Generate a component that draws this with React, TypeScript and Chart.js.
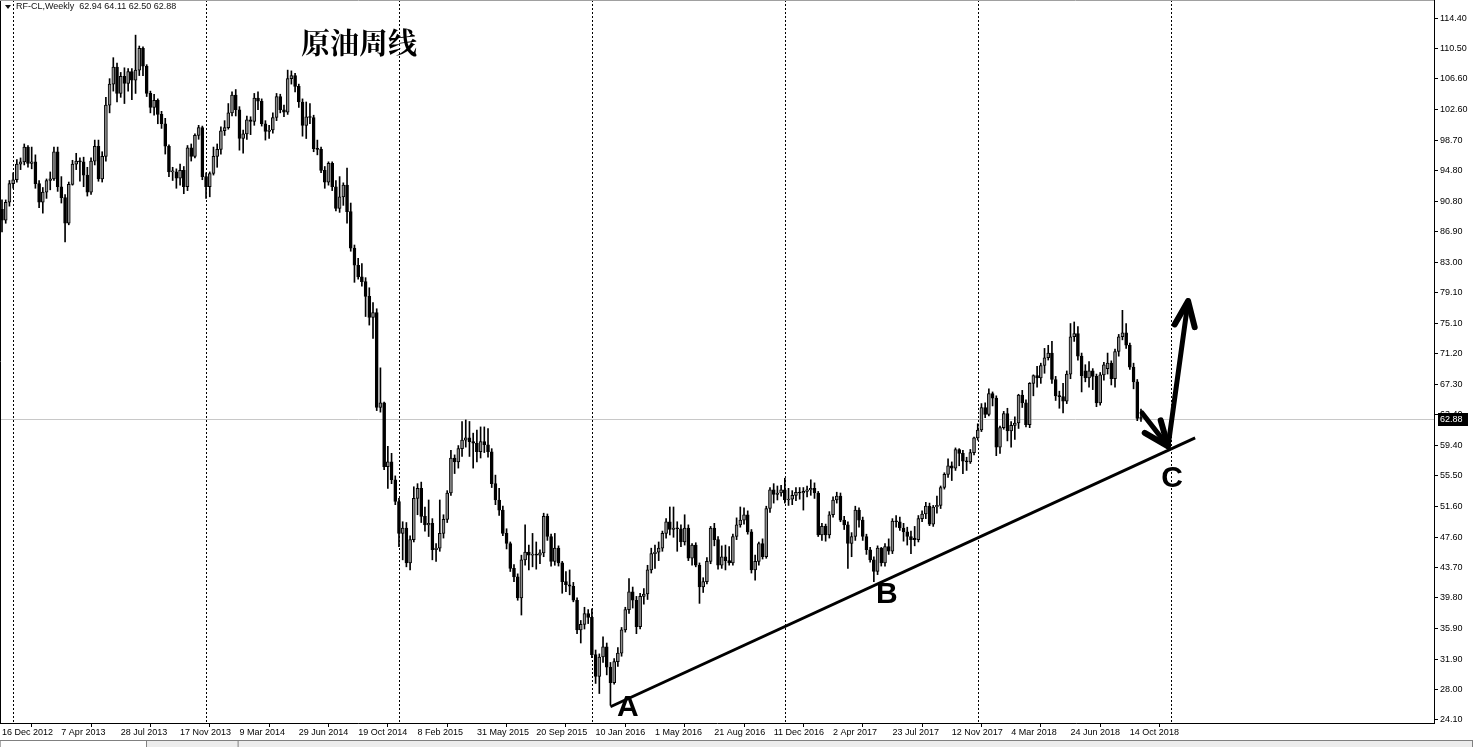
import React, { useEffect, useRef } from "react";
import { Chart, registerables } from "chart.js";

Chart.register(...registerables);

// Weekly candles: [open, high, low, close]
const candles2012 = [
  [89.8, 91.0, 86.9, 88.4], [88.4, 91.0, 88.0, 90.7], [90.7, 93.5, 90.2, 93.1],
];
const candles2013 = [
  [93.1, 94.5, 92.5, 93.6], [93.6, 96.2, 93.3, 95.6], [95.6, 96.4, 94.9, 95.9], [95.9, 98.2, 95.5, 97.8],
  [97.8, 98.0, 95.2, 95.7], [95.7, 97.8, 95.0, 95.9], [95.9, 96.8, 92.5, 93.1], [93.1, 93.5, 90.0, 90.7],
  [90.7, 92.6, 89.3, 92.0], [92.0, 93.7, 91.2, 93.5], [93.5, 94.6, 92.3, 93.7], [93.7, 97.8, 93.5, 97.2],
  [97.2, 97.8, 92.1, 92.7], [92.7, 94.0, 90.6, 91.3], [91.3, 91.7, 85.6, 88.0], [88.0, 93.3, 87.8, 93.0],
  [93.0, 96.1, 92.9, 95.6], [95.6, 97.0, 94.9, 96.0], [96.0, 96.4, 93.4, 95.9], [95.9, 96.5, 92.7, 94.2],
  [94.2, 95.2, 91.5, 92.0], [92.0, 96.4, 91.7, 96.0], [96.0, 98.7, 95.5, 97.9], [97.9, 98.7, 93.4, 93.7],
  [93.7, 97.2, 93.3, 96.6], [96.6, 104.2, 96.0, 103.2], [103.2, 106.6, 102.2, 105.9], [105.9, 109.3, 105.0, 108.1],
  [108.1, 108.6, 103.6, 104.7], [104.7, 107.4, 104.2, 106.9], [106.9, 108.0, 103.4, 106.0], [106.0, 107.9, 105.0, 107.5],
  [107.5, 107.9, 103.9, 106.4], [106.4, 112.2, 104.7, 107.7], [107.7, 110.8, 107.0, 110.5], [110.5, 110.7, 107.0, 108.2],
  [108.2, 108.4, 104.3, 104.7], [104.7, 105.0, 102.2, 102.9], [102.9, 104.6, 101.9, 103.8], [103.8, 104.0, 100.8, 102.0],
  [102.0, 102.4, 100.2, 100.8], [100.8, 101.5, 96.9, 97.9], [97.9, 98.1, 94.0, 94.6], [94.6, 95.2, 93.5, 94.6],
  [94.6, 95.0, 92.5, 93.8], [93.8, 95.6, 92.9, 94.8], [94.8, 95.3, 91.8, 92.7], [92.7, 98.0, 92.2, 97.7],
  [97.7, 98.2, 96.0, 96.6], [96.6, 99.5, 96.4, 99.3], [99.3, 100.6, 98.8, 100.3], [100.3, 100.5, 93.6, 94.0],
];
const candles2014 = [
  [94.0, 94.5, 91.2, 92.7], [92.7, 94.6, 91.4, 94.4], [94.4, 97.8, 94.2, 96.6], [96.6, 98.2, 95.2, 97.5],
  [97.5, 100.4, 96.9, 99.9], [99.9, 101.2, 99.3, 100.3], [100.3, 103.4, 100.1, 102.2], [102.2, 104.9, 101.8, 104.5],
  [104.5, 105.2, 101.8, 102.6], [102.6, 103.0, 97.4, 98.9], [98.9, 100.0, 97.0, 99.5], [99.5, 101.8, 98.8, 101.3],
  [101.3, 101.7, 99.4, 101.1], [101.1, 104.7, 100.6, 104.1], [104.1, 104.9, 102.6, 103.7], [103.7, 104.0, 100.5, 100.8],
  [100.8, 101.2, 98.7, 99.8], [99.8, 100.6, 98.9, 100.0], [100.0, 102.2, 99.6, 101.6], [101.6, 104.7, 101.2, 104.3],
  [104.3, 104.6, 102.2, 102.6], [102.6, 103.2, 101.7, 102.3], [102.3, 107.7, 102.0, 106.6], [106.6, 107.6, 105.9, 107.0],
  [107.0, 107.3, 104.9, 105.6], [105.6, 105.9, 102.9, 103.6], [103.6, 104.0, 99.2, 100.6], [100.6, 103.6, 98.9, 101.7],
  [101.7, 103.4, 100.8, 101.6], [101.6, 101.9, 97.2, 97.6], [97.6, 98.7, 96.8, 97.5], [97.5, 97.8, 94.5, 94.8],
  [94.8, 95.3, 92.5, 93.3], [93.3, 95.9, 92.9, 95.7], [95.7, 95.9, 92.2, 92.7], [92.7, 93.5, 89.6, 89.9],
  [89.9, 94.0, 89.4, 91.4], [91.4, 93.2, 90.3, 92.9], [92.9, 95.1, 88.0, 89.5], [89.5, 90.6, 84.4, 84.8],
  [84.8, 85.2, 80.4, 82.6], [82.6, 83.5, 80.8, 81.1], [81.1, 82.8, 79.9, 80.5], [80.5, 81.0, 76.0, 78.6],
  [78.6, 79.7, 74.9, 75.9], [75.9, 77.8, 73.2, 76.5], [76.5, 77.0, 63.9, 64.3], [64.3, 69.4, 63.7, 64.9],
  [64.9, 65.0, 56.3, 56.7], [56.7, 59.3, 53.9, 57.3], [57.3, 58.4, 54.5, 55.0], [55.0, 55.5, 51.8, 52.2],
];
const candles2015 = [
  [52.2, 52.6, 46.4, 48.1], [48.1, 49.6, 44.7, 48.8], [48.8, 49.5, 43.8, 44.3], [44.3, 47.8, 43.4, 47.3],
  [47.3, 54.1, 47.0, 52.6], [52.6, 54.5, 50.5, 53.9], [53.9, 54.7, 49.5, 50.3], [50.3, 51.5, 48.4, 49.2],
  [49.2, 52.4, 47.7, 49.4], [49.4, 50.0, 44.7, 46.0], [46.0, 46.8, 44.5, 46.2], [46.2, 52.4, 45.8, 48.1],
  [48.1, 50.5, 47.5, 49.9], [49.9, 53.6, 49.5, 53.3], [53.3, 58.8, 53.0, 57.8], [57.8, 58.2, 55.8, 57.3],
  [57.3, 59.4, 56.5, 59.0], [59.0, 62.5, 58.0, 60.1], [60.1, 62.7, 59.2, 60.4], [60.4, 62.5, 58.0, 59.9],
  [59.9, 61.0, 56.5, 59.7], [59.7, 61.4, 57.3, 58.6], [58.6, 61.8, 57.8, 59.9], [59.9, 61.8, 58.5, 59.5],
  [59.5, 61.6, 57.9, 58.6], [58.6, 59.0, 54.0, 54.5], [54.5, 55.6, 51.8, 52.4], [52.4, 53.9, 50.4, 51.1],
  [51.1, 51.6, 47.8, 48.1], [48.1, 48.7, 46.1, 46.8], [46.8, 47.0, 43.2, 43.6], [43.6, 44.1, 41.9, 42.5],
  [42.5, 42.9, 39.5, 39.8], [39.8, 45.3, 37.6, 44.7], [44.7, 49.2, 44.0, 45.7], [45.7, 46.6, 43.4, 45.3],
  [45.3, 48.1, 43.8, 45.4], [45.4, 47.0, 43.5, 45.3], [45.3, 46.0, 44.2, 45.6], [45.6, 50.7, 45.1, 50.3],
  [50.3, 50.6, 47.2, 47.7], [47.7, 48.0, 43.9, 44.5], [44.5, 48.1, 44.0, 46.2], [46.2, 46.5, 43.9, 44.3],
  [44.3, 44.5, 40.4, 41.9], [41.9, 43.2, 40.6, 41.5], [41.5, 43.4, 40.2, 41.3], [41.3, 41.8, 39.3, 39.5],
  [39.5, 39.8, 35.2, 35.7], [35.7, 36.9, 34.0, 36.4], [36.4, 38.6, 35.8, 37.8], [37.8, 38.3, 36.5, 37.3],
];
const candles2016 = [
  [37.3, 38.4, 32.1, 32.5], [32.5, 33.1, 28.8, 29.7], [29.7, 32.6, 27.5, 32.2], [32.2, 34.8, 31.5, 33.5],
  [33.5, 34.0, 29.9, 30.9], [30.9, 31.5, 26.0, 28.9], [28.9, 32.0, 28.7, 31.6], [31.6, 33.4, 31.0, 32.7],
  [32.7, 36.0, 32.3, 35.7], [35.7, 38.6, 35.4, 38.3], [38.3, 42.3, 37.8, 40.6], [40.6, 41.2, 38.5, 39.5],
  [39.5, 40.0, 35.2, 36.1], [36.1, 40.4, 35.8, 40.0], [40.0, 41.0, 39.0, 40.3], [40.3, 44.0, 39.6, 43.4],
  [43.4, 46.2, 43.0, 45.5], [45.5, 46.6, 43.6, 45.7], [45.7, 47.0, 44.6, 46.2], [46.2, 48.4, 45.8, 48.1],
  [48.1, 50.0, 47.5, 49.6], [49.6, 51.5, 47.9, 48.6], [48.6, 51.5, 47.6, 48.8], [48.8, 49.6, 45.8, 48.7],
  [48.7, 49.2, 46.4, 47.0], [47.0, 50.5, 46.6, 48.8], [48.8, 49.2, 44.6, 44.9], [44.9, 46.8, 44.0, 46.6],
  [46.6, 46.9, 43.8, 44.0], [44.0, 44.3, 39.1, 41.2], [41.2, 42.4, 40.5, 41.9], [41.9, 45.0, 41.6, 44.5],
  [44.5, 49.0, 44.2, 48.8], [48.8, 49.4, 46.5, 47.3], [47.3, 47.7, 43.5, 44.0], [44.0, 46.5, 43.6, 45.1],
  [45.1, 46.6, 43.4, 44.6], [44.6, 46.4, 44.0, 44.3], [44.3, 48.0, 44.0, 47.7], [47.7, 50.1, 47.3, 49.2],
  [49.2, 51.5, 48.9, 49.8], [49.8, 51.4, 49.3, 50.5], [50.5, 51.0, 48.0, 48.3], [48.3, 48.6, 43.0, 43.4],
  [43.4, 45.3, 42.1, 44.5], [44.5, 47.0, 44.0, 46.8], [46.8, 47.4, 44.8, 45.1], [45.1, 51.6, 44.9, 51.3],
  [51.3, 54.0, 50.8, 53.7], [53.7, 54.5, 52.0, 53.1], [53.1, 54.2, 52.4, 53.3], [53.3, 54.3, 52.9, 53.7],
];
const candles2017 = [
  [53.7, 55.2, 52.0, 52.4], [52.4, 53.9, 51.7, 52.5], [52.5, 53.6, 51.8, 53.0], [53.0, 54.0, 52.3, 53.4],
  [53.4, 54.0, 52.5, 53.3], [53.3, 54.0, 51.1, 53.5], [53.5, 54.2, 52.8, 53.7], [53.7, 55.0, 53.0, 53.9],
  [53.9, 54.6, 52.6, 53.3], [53.3, 53.5, 47.7, 47.9], [47.9, 49.4, 47.2, 49.0], [49.0, 49.3, 47.1, 47.9],
  [47.9, 50.9, 47.5, 50.5], [50.5, 52.8, 50.2, 52.4], [52.4, 53.4, 52.0, 52.9], [52.9, 53.3, 49.6, 49.8],
  [49.8, 50.3, 48.6, 49.2], [49.2, 49.6, 43.6, 46.8], [46.8, 48.2, 45.1, 47.7], [47.7, 51.6, 47.2, 51.1],
  [51.1, 51.4, 48.9, 49.8], [49.8, 50.2, 47.2, 47.7], [47.7, 48.0, 45.4, 46.0], [46.0, 46.3, 44.4, 44.7],
  [44.7, 45.1, 41.9, 43.2], [43.2, 46.5, 42.8, 46.2], [46.2, 46.3, 43.9, 44.3], [44.3, 46.8, 43.9, 46.4],
  [46.4, 47.4, 45.4, 45.8], [45.8, 50.0, 45.5, 49.7], [49.7, 50.4, 48.9, 49.6], [49.6, 50.2, 48.5, 48.8],
  [48.8, 49.4, 47.1, 48.3], [48.3, 48.9, 46.6, 47.7], [47.7, 48.4, 45.5, 47.3], [47.5, 49.0, 46.5, 47.3],
  [47.3, 50.4, 47.0, 50.0], [50.0, 51.0, 49.6, 50.6], [50.6, 52.1, 50.0, 51.6], [51.6, 52.0, 49.1, 49.3],
  [49.3, 51.7, 49.0, 51.5], [51.5, 52.9, 50.7, 51.7], [51.7, 54.2, 51.3, 54.0], [54.0, 55.9, 53.8, 55.7],
  [55.7, 57.7, 55.3, 56.8], [56.8, 57.3, 54.9, 56.5], [56.5, 59.1, 56.2, 58.9], [58.9, 59.0, 56.8, 58.4],
  [58.4, 58.8, 55.8, 57.4], [57.4, 57.9, 56.2, 57.3], [57.3, 58.9, 57.1, 58.5], [58.5, 60.5, 58.2, 60.4],
];
const candles2018 = [
  [60.4, 62.2, 60.1, 61.4], [61.4, 64.8, 61.2, 64.3], [64.3, 64.9, 63.0, 63.4], [63.4, 66.7, 63.2, 66.1],
  [66.1, 66.3, 64.5, 65.5], [65.5, 65.8, 58.1, 59.2], [59.2, 61.9, 58.4, 61.7], [61.7, 63.8, 61.5, 63.5],
  [63.5, 64.2, 60.0, 61.3], [61.3, 62.5, 59.2, 62.0], [62.0, 63.1, 60.2, 62.3], [62.3, 66.0, 61.6, 65.9],
  [65.9, 66.5, 64.3, 64.9], [64.9, 65.3, 61.8, 62.1], [62.1, 67.5, 61.7, 67.4], [67.4, 68.5, 65.8, 68.4],
  [68.4, 69.6, 66.9, 68.1], [68.1, 70.0, 67.4, 69.7], [69.7, 71.9, 68.7, 70.7], [70.7, 72.3, 70.4, 71.3],
  [71.3, 72.8, 67.4, 67.9], [67.9, 68.3, 65.2, 65.8], [65.8, 66.4, 64.2, 65.7], [65.7, 67.4, 63.6, 65.1],
  [65.1, 69.0, 64.8, 68.6], [68.6, 75.1, 68.0, 73.4], [73.4, 75.3, 72.8, 73.8], [73.8, 74.7, 70.4, 70.9],
  [70.9, 71.3, 66.3, 68.4], [69.0, 69.8, 67.6, 68.1], [68.1, 70.2, 66.9, 69.0], [69.0, 69.3, 66.6, 68.3],
  [68.3, 68.6, 64.4, 64.9], [64.9, 68.8, 64.6, 68.5], [68.5, 70.1, 67.8, 69.8], [69.3, 71.3, 68.6, 70.0],
  [70.0, 70.3, 67.2, 68.0], [68.0, 71.8, 66.9, 71.5], [71.5, 73.7, 70.9, 73.4], [73.4, 76.8, 73.0, 73.9],
  [73.9, 75.1, 71.9, 72.3], [72.3, 72.6, 69.2, 69.5], [69.5, 70.0, 66.7, 67.6], [67.6, 67.9, 62.6, 62.9],
  [62.94, 64.11, 62.5, 62.88],
];

const symbolName = "RF-CL,Weekly";
const lastQuote = [62.94, 64.11, 62.5, 62.88];
const chartTitle = "原油周线";

const priceTicks = [
  114.4, 110.5, 106.6, 102.6, 98.7, 94.8, 90.8, 86.9, 83.0, 79.1, 75.1, 71.2,
  67.3, 63.4, 59.4, 55.5, 51.6, 47.6, 43.7, 39.8, 35.9, 31.9, 28.0, 24.1,
];
const dateLabels = [
  "16 Dec 2012", "7 Apr 2013", "28 Jul 2013", "17 Nov 2013", "9 Mar 2014", "29 Jun 2014",
  "19 Oct 2014", "8 Feb 2015", "31 May 2015", "20 Sep 2015", "10 Jan 2016", "1 May 2016",
  "21 Aug 2016", "11 Dec 2016", "2 Apr 2017", "23 Jul 2017", "12 Nov 2017", "4 Mar 2018",
  "24 Jun 2018", "14 Oct 2018",
];
const dateLabelWeeks = [0, 16, 32, 48, 64, 80, 96, 112, 128, 144, 160, 176, 192, 208, 224, 240, 256, 272, 288, 304];
const yearStartWeeks = [3, 55, 107, 159, 211, 263, 315];

// annotations in [week index, price]
const trendLine = [[164.0, 25.8], [321.6, 60.4]];
const arrowDown = [[307.3, 63.6], [314.3, 59.3]];
const arrowUp = [[314.3, 59.3], [319.7, 78.0]];
const pointLabels: [string, number, number][] = [
  ["A", 168.7, 25.8],
  ["B", 238.5, 40.4],
  ["C", 315.4, 55.2],
];

const X_MIN = -0.54;
const X_MAX = 385.98;
const Y_MIN = 23.71;
const Y_MAX = 116.72;

const BULL = "#8c8c8c";
const BEAR = "#000000";
const AXIS_FONT = { family: "'Liberation Sans', Arial, sans-serif", size: 9 };

export default function App() {
  const ref = useRef<HTMLCanvasElement | null>(null);

  useEffect(() => {
    const canvas = ref.current;
    if (!canvas) return;
    const candles = [
      ...candles2012, ...candles2013, ...candles2014, ...candles2015,
      ...candles2016, ...candles2017, ...candles2018,
    ];
    const bodies = candles.map((c, i) => ({ x: i, y: [Math.min(c[0], c[3]), Math.max(c[0], c[3])] }));
    const wicks = candles.map((c, i) => ({ x: i, y: [c[2], c[1]] }));
    const bodyColors = candles.map((c) => (c[3] >= c[0] ? BULL : BEAR));

    const drawArrow = (ctx: CanvasRenderingContext2D, x1: number, y1: number, x2: number, y2: number) => {
      ctx.lineWidth = 5;
      ctx.beginPath();
      ctx.moveTo(x1, y1);
      ctx.lineTo(x2, y2);
      ctx.stroke();
      const ang = Math.atan2(y2 - y1, x2 - x1);
      const len = 27;
      const spread = (22 * Math.PI) / 180;
      ctx.lineWidth = 6;
      ctx.beginPath();
      ctx.moveTo(x2 - len * Math.cos(ang - spread), y2 - len * Math.sin(ang - spread));
      ctx.lineTo(x2, y2);
      ctx.lineTo(x2 - len * Math.cos(ang + spread), y2 - len * Math.sin(ang + spread));
      ctx.stroke();
    };

    const zeroPad = (s: any) => {
      s.paddingTop = 0;
      s.paddingBottom = 0;
      s.paddingLeft = 0;
      s.paddingRight = 0;
    };

    const overlay = {
      id: "overlay",
      beforeDatasetsDraw(chart: any) {
        const { ctx, chartArea: a, scales } = chart;
        const x = scales.x, y = scales.y;
        ctx.save();
        const py = Math.round(y.getPixelForValue(lastQuote[3])) + 0.5;
        ctx.strokeStyle = "#c8c8c8";
        ctx.lineWidth = 1;
        ctx.beginPath();
        ctx.moveTo(a.left, py);
        ctx.lineTo(a.right, py);
        ctx.stroke();
        ctx.strokeStyle = "#000";
        ctx.setLineDash([2, 2]);
        for (const w of yearStartWeeks) {
          const px = Math.round(x.getPixelForValue(w)) + 0.5;
          ctx.beginPath();
          ctx.moveTo(px, a.top);
          ctx.lineTo(px, a.bottom);
          ctx.stroke();
        }
        ctx.restore();
      },
      afterDraw(chart: any) {
        const { ctx, chartArea: a, scales } = chart;
        const x = scales.x, y = scales.y;
        const P = (p: number[]) => [x.getPixelForValue(p[0]), y.getPixelForValue(p[1])];
        ctx.save();
        // frame
        ctx.strokeStyle = "#000";
        ctx.lineWidth = 1;
        ctx.beginPath();
        ctx.moveTo(0.5, a.bottom);
        ctx.lineTo(0.5, 0);
        ctx.stroke();
        ctx.strokeStyle = "#a0a0a0";
        ctx.beginPath();
        ctx.moveTo(0, 0.5);
        ctx.lineTo(a.right, 0.5);
        ctx.stroke();

        // trend line
        const [t1x, t1y] = P(trendLine[0]);
        const [t2x, t2y] = P(trendLine[1]);
        ctx.strokeStyle = "#000";
        ctx.lineWidth = 3;
        ctx.beginPath();
        ctx.moveTo(t1x, t1y);
        ctx.lineTo(t2x, t2y);
        ctx.stroke();

        // arrows
        ctx.lineCap = "round";
        ctx.lineJoin = "round";
        const [d1x, d1y] = P(arrowDown[0]);
        const [d2x, d2y] = P(arrowDown[1]);
        drawArrow(ctx, d1x, d1y, d2x, d2y);
        const [u1x, u1y] = P(arrowUp[0]);
        const [u2x, u2y] = P(arrowUp[1]);
        drawArrow(ctx, u1x, u1y, u2x, u2y);

        // point labels
        ctx.fillStyle = "#000";
        ctx.font = "bold 30px 'Liberation Sans', Arial, sans-serif";
        ctx.textAlign = "center";
        ctx.textBaseline = "middle";
        for (const [t, w, p] of pointLabels) {
          const [lx, ly] = P([w, p]);
          ctx.fillText(t, lx, ly + 1);
        }

        // title
        ctx.font = "bold 29px 'Noto Serif CJK SC', 'Noto Sans CJK SC', serif";
        ctx.textAlign = "left";
        ctx.textBaseline = "middle";
        ctx.fillText(chartTitle, 301, 43);

        // header
        ctx.font = "9px 'Liberation Sans', Arial, sans-serif";
        ctx.fillStyle = "#111";
        ctx.textBaseline = "middle";
        ctx.fillText(symbolName + "  " + lastQuote.map((v) => v.toFixed(2)).join(" "), 16, 7);
        ctx.beginPath();
        ctx.moveTo(5, 5);
        ctx.lineTo(11, 5);
        ctx.lineTo(8, 9);
        ctx.closePath();
        ctx.fill();

        // price tag
        const ty = Math.round(y.getPixelForValue(lastQuote[3]));
        ctx.fillStyle = "#000";
        ctx.fillRect(a.right + 4, ty - 6, 30, 13);
        ctx.fillStyle = "#fff";
        ctx.font = "9px 'Liberation Sans', Arial, sans-serif";
        ctx.textAlign = "left";
        ctx.fillText(lastQuote[3].toFixed(2), a.right + 6, ty + 0.5);

        // bottom strip with tabs
        ctx.fillStyle = "#ececec";
        ctx.fillRect(0, 740, chart.width, 7);
        ctx.strokeStyle = "#808080";
        ctx.lineWidth = 1;
        ctx.beginPath();
        ctx.moveTo(0, 740.5);
        ctx.lineTo(chart.width, 740.5);
        ctx.stroke();
        ctx.fillStyle = "#fff";
        ctx.fillRect(1, 741, 145, 6);
        ctx.strokeRect(0.5, 740.5, 146, 8);
        ctx.strokeRect(238.5, 740.5, chart.width - 239, 8);
        ctx.restore();
      },
    };

    const chart = new Chart(canvas, {
      type: "bar",
      data: {
        datasets: [
          {
            data: wicks as any,
            backgroundColor: "#000",
            borderWidth: 0,
            barThickness: 1,
            grouped: false,
            order: 2,
          } as any,
          {
            data: bodies as any,
            backgroundColor: bodyColors,
            borderColor: "#000",
            borderWidth: 1,
            borderSkipped: false,
            barThickness: 3,
            minBarLength: 1,
            grouped: false,
            order: 1,
          } as any,
        ],
      },
      options: {
        animation: false,
        responsive: false,
        maintainAspectRatio: false,
        events: [],
        layout: { padding: 0 },
        plugins: { legend: { display: false }, tooltip: { enabled: false } },
        scales: {
          x: {
            type: "linear",
            min: X_MIN,
            max: X_MAX,
            offset: false,
            grid: { drawOnChartArea: false, drawTicks: true, tickLength: 4, color: "#000" },
            border: { display: true, color: "#000" },
            ticks: {
              autoSkip: false,
              maxRotation: 0,
              minRotation: 0,
              align: "start",
              padding: 0,
              color: "#000",
              font: AXIS_FONT,
              callback: (_v: any, i: number) => dateLabels[i],
            },
            afterBuildTicks: (s: any) => {
              s.ticks = dateLabelWeeks.map((v) => ({ value: v }));
            },
            afterFit: (s: any) => {
              s.height = 24;
              zeroPad(s);
            },
          } as any,
          y: {
            type: "linear",
            position: "right",
            min: Y_MIN,
            max: Y_MAX,
            grid: { drawOnChartArea: false, drawTicks: true, tickLength: 4, color: "#000" },
            border: { display: true, color: "#000" },
            ticks: {
              autoSkip: false,
              padding: 2,
              color: "#000",
              font: AXIS_FONT,
              callback: (v: any) => Number(v).toFixed(2),
            },
            afterBuildTicks: (s: any) => {
              s.ticks = priceTicks.map((v) => ({ value: v }));
            },
            afterFit: (s: any) => {
              s.width = 39;
              zeroPad(s);
            },
          } as any,
        },
      },
      plugins: [overlay],
    });
    return () => chart.destroy();
  }, []);

  return (
    <div style={{ position: "fixed", left: 0, top: 0, width: 1473, height: 747, background: "#fff" }}>
      <canvas ref={ref} width={1473} height={747} style={{ width: 1473, height: 747, display: "block" }} />
    </div>
  );
}
